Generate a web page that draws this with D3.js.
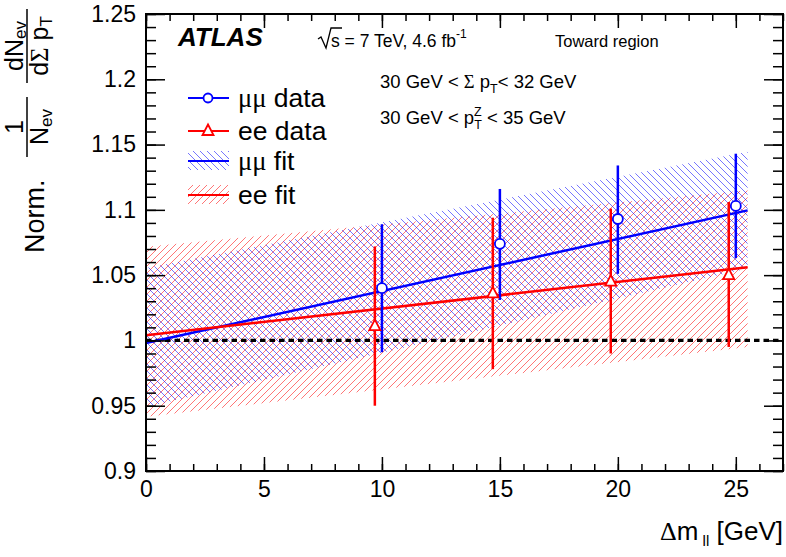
<!DOCTYPE html>
<html>
<head>
<meta charset="utf-8">
<script src="https://cdn.jsdelivr.net/npm/d3@7"></script>
<style>
  body { margin: 0; background: #fff; }
  text { font-family: "Liberation Sans", Arial, Helvetica, sans-serif; fill: #000; }
  .greek { font-family: "Liberation Serif", "Times New Roman", serif; }
</style>
</head>
<body>
<svg id="chart" width="786" height="557"></svg>
<script>
// mu-mu data points (x, value, error bar ends)
var xMuMu = [10, 15, 20, 25];
var muMuVal = [1.040, 1.074, 1.093, 1.103];
var muMuHi = [1.089, 1.116, 1.134, 1.143];
var muMuLo = [0.991, 1.031, 1.051, 1.063];

// ee data points, drawn a bit left of the mu-mu ones
var xEE = [9.7, 14.7, 19.7, 24.7];
var eeVal = [1.011, 1.036, 1.045, 1.050];
var eeHi = [1.072, 1.094, 1.101, 1.106];
var eeLo = [0.950, 0.978, 0.990, 0.995];

// linear fits and their bands, at both ends of the fit range
var fitX = [0, 25.5];
var muMuFit = [0.998, 1.0996];
var muMuBandLo = [0.949, 1.055];
var muMuBandHi = [1.0555, 1.1445];
var eeFit = [1.004, 1.056];
var eeBandLo = [0.9416, 0.995];
var eeBandHi = [1.0718, 1.115];

var xTicks = [0, 5, 10, 15, 20, 25];
var xTickLabels = ["0", "5", "10", "15", "20", "25"];
var yTicks = [0.9, 0.95, 1, 1.05, 1.1, 1.15, 1.2, 1.25];
var yTickLabels = ["0.9", "0.95", "1", "1.05", "1.1", "1.15", "1.2", "1.25"];

var blue = "#0000ff", red = "#ff0000";

var svg = d3.select("#chart");
var margin = {top: 14, right: 3, bottom: 86, left: 146};
var width = 786 - margin.left - margin.right,
    height = 557 - margin.top - margin.bottom;

var x = d3.scaleLinear().domain([0, 27]).range([margin.left, margin.left + width]);
var y = d3.scaleLinear().domain([0.9, 1.25]).range([margin.top + height, margin.top]);

// hatch fills like ROOT 3004 / 3005, drawn as diagonals in a square tile
var defs = svg.append("defs");
var tile = 7;
function hatch(id, color, back) {
  var d = back
    ? "M0,0 L" + tile + "," + tile + " M-1," + (tile - 1) + " L1," + (tile + 1) + " M" + (tile - 1) + ",-1 L" + (tile + 1) + ",1"
    : "M0," + tile + " L" + tile + ",0 M-1,1 L1,-1 M" + (tile - 1) + "," + (tile + 1) + " L" + (tile + 1) + "," + (tile - 1);
  defs.append("pattern")
      .attr("id", id)
      .attr("patternUnits", "userSpaceOnUse")
      .attr("width", tile).attr("height", tile)
    .append("path")
      .attr("d", d)
      .attr("stroke", color).attr("stroke-width", 0.9).attr("stroke-opacity", 0.6);
}
hatch("hatchMu", blue, true);
hatch("hatchEE", red, false);

var idx = d3.range(fitX.length);
function band(lo, hi) {
  return d3.area()
      .x(function(i) { return x(fitX[i]); })
      .y0(function(i) { return y(lo[i]); })
      .y1(function(i) { return y(hi[i]); })(idx);
}
function fitLine(v) {
  return d3.line()
      .x(function(i) { return x(fitX[i]); })
      .y(function(i) { return y(v[i]); })(idx);
}

svg.append("path").attr("d", band(eeBandLo, eeBandHi)).attr("fill", "url(#hatchEE)");
svg.append("path").attr("d", band(muMuBandLo, muMuBandHi)).attr("fill", "url(#hatchMu)");

// reference line at 1
svg.append("line")
    .attr("x1", x(0)).attr("x2", x(27))
    .attr("y1", y(1)).attr("y2", y(1))
    .attr("stroke", "#000").attr("stroke-width", 3.2)
    .attr("stroke-dasharray", "5.5,4");

svg.append("path").attr("d", fitLine(muMuFit)).attr("fill", "none")
    .attr("stroke", blue).attr("stroke-width", 2.5);
svg.append("path").attr("d", fitLine(eeFit)).attr("fill", "none")
    .attr("stroke", red).attr("stroke-width", 2.5);

// error bars
svg.append("g").selectAll("line")
    .data(xEE)
  .enter().append("line")
    .attr("x1", function(d) { return x(d); }).attr("x2", function(d) { return x(d); })
    .attr("y1", function(d, i) { return y(eeLo[i]); })
    .attr("y2", function(d, i) { return y(eeHi[i]); })
    .attr("stroke", red).attr("stroke-width", 2.5);
svg.append("g").selectAll("line")
    .data(xMuMu)
  .enter().append("line")
    .attr("x1", function(d) { return x(d); }).attr("x2", function(d) { return x(d); })
    .attr("y1", function(d, i) { return y(muMuLo[i]); })
    .attr("y2", function(d, i) { return y(muMuHi[i]); })
    .attr("stroke", blue).attr("stroke-width", 2.5);

// markers
var triangle = "M0,-6.5 L5.5,4 L-5.5,4 Z";
svg.append("g").selectAll("path")
    .data(xEE)
  .enter().append("path")
    .attr("transform", function(d, i) { return "translate(" + x(d) + "," + y(eeVal[i]) + ")"; })
    .attr("d", triangle)
    .attr("fill", "#fff").attr("stroke", red).attr("stroke-width", 1.8);
svg.append("g").selectAll("circle")
    .data(xMuMu)
  .enter().append("circle")
    .attr("cx", function(d) { return x(d); })
    .attr("cy", function(d, i) { return y(muMuVal[i]); })
    .attr("r", 5)
    .attr("fill", "#fff").attr("stroke", blue).attr("stroke-width", 1.8);

// frame and ticks (ticks point inward, mirrored on top and right)
var bottom = margin.top + height, right = margin.left + width;
function styleAxis(g) {
  g.select(".domain").remove();
  g.selectAll(".tick line").attr("stroke", "#000").attr("stroke-width", 1.5);
  g.selectAll("text").attr("font-size", 23).attr("font-family", null).attr("fill", "#000");
}
var fmtX = function(d) { return xTickLabels[xTicks.indexOf(d)]; };
var fmtY = function(d) { return yTickLabels[yTicks.indexOf(d)]; };

svg.append("g").attr("transform", "translate(0," + bottom + ")")
    .call(d3.axisBottom(x).tickValues(d3.range(0, 28)).tickSizeInner(-7).tickSizeOuter(0).tickFormat(""))
    .call(styleAxis);
svg.append("g").attr("transform", "translate(0," + bottom + ")")
    .call(d3.axisBottom(x).tickValues(xTicks).tickSizeInner(-14).tickSizeOuter(0).tickPadding(10).tickFormat(fmtX))
    .call(styleAxis);
svg.append("g").attr("transform", "translate(0," + margin.top + ")")
    .call(d3.axisTop(x).tickValues(d3.range(0, 28)).tickSizeInner(-7).tickSizeOuter(0).tickFormat(""))
    .call(styleAxis);
svg.append("g").attr("transform", "translate(0," + margin.top + ")")
    .call(d3.axisTop(x).tickValues(xTicks).tickSizeInner(-14).tickSizeOuter(0).tickFormat(""))
    .call(styleAxis);

var yMinor = d3.range(90, 126).map(function(v) { return v / 100; });
svg.append("g").attr("transform", "translate(" + margin.left + ",0)")
    .call(d3.axisLeft(y).tickValues(yMinor).tickSizeInner(-10).tickSizeOuter(0).tickFormat(""))
    .call(styleAxis);
svg.append("g").attr("transform", "translate(" + margin.left + ",0)")
    .call(d3.axisLeft(y).tickValues(yTicks).tickSizeInner(-19).tickSizeOuter(0).tickPadding(10).tickFormat(fmtY))
    .call(styleAxis);
svg.append("g").attr("transform", "translate(" + right + ",0)")
    .call(d3.axisRight(y).tickValues(yMinor).tickSizeInner(-10).tickSizeOuter(0).tickFormat(""))
    .call(styleAxis);
svg.append("g").attr("transform", "translate(" + right + ",0)")
    .call(d3.axisRight(y).tickValues(yTicks).tickSizeInner(-19).tickSizeOuter(0).tickFormat(""))
    .call(styleAxis);

svg.append("rect")
    .attr("x", margin.left).attr("y", margin.top)
    .attr("width", width).attr("height", height)
    .attr("fill", "none").attr("stroke", "#000").attr("stroke-width", 2);

// x axis title
var xt = svg.append("text").attr("x", right).attr("y", 540)
    .attr("text-anchor", "end").attr("font-size", 26);
xt.append("tspan").attr("class", "greek").text("Δ");
xt.append("tspan").text("m");
xt.append("tspan").attr("font-size", 15).attr("dy", 6).text(" ll");
xt.append("tspan").attr("dy", -6).text(" [GeV]");

// y axis title, rotated; local x runs up the page, local y runs right
var yt = svg.append("g").attr("transform", "translate(0,253) rotate(-90)");
yt.append("text").attr("x", 0).attr("y", 44).attr("font-size", 27).text("Norm.");

function frac(cx, x0, x1, num, den) {
  yt.append("line").attr("x1", x0).attr("x2", x1).attr("y1", 27).attr("y2", 27)
      .attr("stroke", "#000").attr("stroke-width", 1.5);
  var n = yt.append("text").attr("x", cx).attr("y", 23).attr("text-anchor", "middle").attr("font-size", 25);
  num(n);
  var d = yt.append("text").attr("x", cx).attr("y", 48).attr("text-anchor", "middle").attr("font-size", 25);
  den(d);
}
frac(126, 96, 156,
  function(t) { t.text("1"); },
  function(t) {
    t.append("tspan").text("N");
    t.append("tspan").attr("font-size", 17).attr("dy", 4).text("ev");
  });
frac(207, 170, 244,
  function(t) {
    t.append("tspan").text("dN");
    t.append("tspan").attr("font-size", 17).attr("dy", 3).text("ev");
  },
  function(t) {
    t.append("tspan").text("d");
    t.append("tspan").attr("class", "greek").text("Σ");
    t.append("tspan").text(" p");
    t.append("tspan").attr("font-size", 17).attr("dy", 4).text("T");
  });

// ATLAS label and run info
svg.append("text").attr("x", 178).attr("y", 46)
    .attr("font-size", 26).attr("font-weight", "bold").attr("font-style", "italic")
    .text("ATLAS");

svg.append("path")
    .attr("d", "M318,39 L321,37 L326,48 L331,28 L342,28")
    .attr("fill", "none").attr("stroke", "#000").attr("stroke-width", 1.3);
var info = svg.append("text").attr("x", 331).attr("y", 47).attr("font-size", 17.5);
info.append("tspan").text("s = 7 TeV, 4.6 fb");
info.append("tspan").attr("font-size", 12).attr("dy", -9).text("-1");
svg.append("text").attr("x", 555).attr("y", 47).attr("font-size", 16.5).text("Toward region");

var c1 = svg.append("text").attr("x", 380).attr("y", 88).attr("font-size", 18.5);
c1.append("tspan").text("30 GeV < ");
c1.append("tspan").attr("class", "greek").text("Σ");
c1.append("tspan").text(" p");
c1.append("tspan").attr("font-size", 12.5).attr("dy", 5).text("T");
c1.append("tspan").attr("dy", -5).text("< 32 GeV");

var c2 = svg.append("text").attr("x", 380).attr("y", 124).attr("font-size", 18.5);
c2.append("tspan").text("30 GeV < p");
c2.append("tspan").attr("font-size", 12.5).attr("dy", -8).text("Z");
c2.append("tspan").attr("font-size", 12.5).attr("dx", -7.5).attr("dy", 13).text("T");
c2.append("tspan").attr("dy", -5).text(" < 35 GeV");

// legend
var legend = [
  {label: "data", color: blue, kind: "circle", y: 98},
  {label: "data", color: red, kind: "triangle", y: 131, ee: true},
  {label: "fit", color: blue, kind: "fill", fill: "url(#hatchMu)", y: 161},
  {label: "fit", color: red, kind: "fill", fill: "url(#hatchEE)", y: 195, ee: true}
];
var lg = svg.append("g").selectAll("g").data(legend).enter().append("g");
lg.filter(function(d) { return d.kind === "fill"; }).append("rect")
    .attr("x", 188).attr("width", 41)
    .attr("y", function(d) { return d.y - 10; }).attr("height", 19)
    .attr("fill", function(d) { return d.fill; });
lg.append("line")
    .attr("x1", 188).attr("x2", 229)
    .attr("y1", function(d) { return d.y; }).attr("y2", function(d) { return d.y; })
    .attr("stroke", function(d) { return d.color; }).attr("stroke-width", 2);
lg.filter(function(d) { return d.kind === "circle"; }).append("circle")
    .attr("cx", 208).attr("cy", function(d) { return d.y; }).attr("r", 4.5)
    .attr("fill", "#fff").attr("stroke", function(d) { return d.color; }).attr("stroke-width", 1.8);
lg.filter(function(d) { return d.kind === "triangle"; }).append("path")
    .attr("transform", function(d) { return "translate(208," + d.y + ")"; })
    .attr("d", triangle)
    .attr("fill", "#fff").attr("stroke", function(d) { return d.color; }).attr("stroke-width", 1.8);
var lt = lg.append("text").attr("x", 238).attr("y", function(d) { return d.y + 9; })
    .attr("font-size", 26.5);
lt.append("tspan").attr("class", function(d) { return d.ee ? null : "greek"; })
    .text(function(d) { return d.ee ? "ee" : "μμ"; });
lt.append("tspan").text(function(d) { return " " + d.label; });
</script>
</body>
</html>
